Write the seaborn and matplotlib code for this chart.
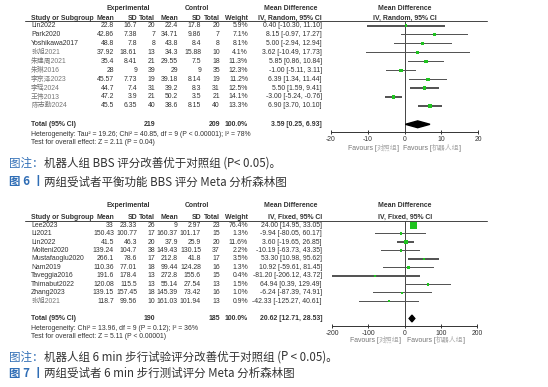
import matplotlib
matplotlib.use('Agg')
import matplotlib.pyplot as plt
import seaborn as sns
from matplotlib.offsetbox import TextArea, HPacker, AnnotationBbox

# 图6 BBS
bbs_study = ['Lin2022', 'Park2020', 'Yoshikawa2017', '张旭2021', '朱建周2021',
             '朱琳2016', '李京泽2023', '李瑶2024', '王伟2013', '陈志勤2024']
bbs_exp_mean = [22.8, 42.86, 48.8, 37.92, 35.4, 28, 45.57, 44.7, 47.2, 45.5]
bbs_exp_sd = [16.7, 7.38, 7.8, 18.61, 8.41, 9, 7.73, 7.4, 3.9, 6.35]
bbs_exp_n = [20, 7, 8, 13, 21, 39, 19, 31, 21, 40]
bbs_ctl_mean = [22.4, 34.71, 43.8, 34.3, 29.55, 29, 39.18, 39.2, 50.2, 38.6]
bbs_ctl_sd = [17.8, 9.86, 8.4, 15.88, 7.5, 9, 8.14, 8.3, 3.5, 8.15]
bbs_ctl_n = [20, 7, 8, 10, 18, 35, 19, 31, 21, 40]
bbs_weight = [5.9, 7.1, 8.1, 4.1, 11.3, 12.3, 11.2, 12.5, 14.1, 13.3]
bbs_md = [0.40, 8.15, 5.00, 3.62, 5.85, -1.00, 6.39, 5.50, -3.00, 6.90]
bbs_lo = [-10.30, -0.97, -2.94, -10.49, 0.86, -5.11, 1.34, 1.59, -5.24, 3.70]
bbs_hi = [11.10, 17.27, 12.94, 17.73, 10.84, 3.11, 11.44, 9.41, -0.76, 10.10]
bbs_total = [219, 209, 3.59, 0.25, 6.93]
bbs_het = 'Heterogeneity: Tau² = 19.26; Chi² = 40.85, df = 9 (P < 0.00001); I² = 78%'
bbs_test = 'Test for overall effect: Z = 2.11 (P = 0.04)'
bbs_ticks = [-20, -10, 0, 10, 20]

# 图7 6 min 步行
wlk_study = ['Lee2023', 'Li2021', 'Lin2022', 'Molteni2020', 'Mustafaoglu2020',
             'Nam2019', 'Taveggia2016', 'Thimabut2022', 'Zhang2023', '张旭2021']
wlk_exp_mean = [33, 150.43, 41.5, 139.24, 266.1, 110.36, 191.6, 120.08, 139.15, 118.7]
wlk_exp_sd = [23.33, 100.77, 46.3, 104.7, 78.6, 77.01, 178.4, 115.5, 157.45, 99.56]
wlk_exp_n = [26, 17, 20, 38, 17, 18, 13, 13, 18, 10]
wlk_ctl_mean = [9, 160.37, 37.9, 149.43, 212.8, 99.44, 272.8, 55.14, 145.39, 161.03]
wlk_ctl_sd = [2.97, 101.17, 25.9, 130.15, 41.8, 124.28, 155.6, 27.54, 73.42, 101.94]
wlk_ctl_n = [23, 15, 20, 37, 17, 16, 15, 13, 16, 13]
wlk_weight = [76.4, 1.3, 11.6, 2.2, 3.5, 1.3, 0.4, 1.5, 1.0, 0.9]
wlk_md = [24.00, -9.94, 3.60, -10.19, 53.30, 10.92, -81.20, 64.94, -6.24, -42.33]
wlk_lo = [14.95, -80.05, -19.65, -63.73, 10.98, -59.61, -206.12, 0.39, -87.39, -125.27]
wlk_hi = [33.05, 60.17, 26.85, 43.35, 95.62, 81.45, 43.72, 129.49, 74.91, 40.61]
wlk_total = [190, 185, 20.62, 12.71, 28.53]
wlk_het = 'Heterogeneity: Chi² = 13.96, df = 9 (P = 0.12); I² = 36%'
wlk_test = 'Test for overall effect: Z = 5.11 (P < 0.00001)'
wlk_ticks = [-200, -100, 0, 100, 200]

sns.set_theme(style='white')
plt.rcParams['font.family'] = ['Liberation Sans', 'Noto Sans CJK SC']

W, H = 548, 387
fig = plt.figure(figsize=(W / 100, H / 100), dpi=100)
fig.patch.set_facecolor('white')
bg = fig.add_axes([0, 0, 1, 1])
bg.set_xlim(0, W)
bg.set_ylim(H, 0)
bg.axis('off')

FS = 4.95
TXT = '#333333'
CJK = '#777777'
GREEN = '#1fc41f'
# right edges of the number columns
COLS = [114, 137, 155, 178, 201, 220, 248, 322]


def num(v):
    return f'{v:g}'


def is_cjk(s):
    return any(ord(c) > 0x2e80 for c in s)


def panel(study, em, esd, en, cm, csd, cn, wt, md, lo, hi, tot, het, test, ticks,
          method, lay):
    y0 = lay['head']
    bg.text(128, y0, 'Experimental', ha='center', va='center', fontsize=FS, weight='bold', color=TXT)
    bg.text(197, y0, 'Control', ha='center', va='center', fontsize=FS, weight='bold', color=TXT)
    bg.text(291, y0, 'Mean Difference', ha='center', va='center', fontsize=FS, weight='bold', color=TXT)
    bg.text(405, y0, 'Mean Difference', ha='center', va='center', fontsize=FS, weight='bold', color=TXT)
    y1 = lay['sub']
    bg.text(31, y1, 'Study or Subgroup', ha='left', va='center', fontsize=FS, weight='bold', color=TXT)
    for x, lab in zip(COLS[:7], ['Mean', 'SD', 'Total', 'Mean', 'SD', 'Total', 'Weight']):
        bg.text(x, y1, lab, ha='right', va='center', fontsize=FS, weight='bold', color=TXT)
    bg.text(322, y1, f'IV, {method}, 95% CI', ha='right', va='center', fontsize=FS, weight='bold', color=TXT)
    bg.text(405, y1, f'IV, {method}, 95% CI', ha='center', va='center', fontsize=FS, weight='bold', color=TXT)
    bg.plot([25, 487], [lay['line'], lay['line']], color='#444444', lw=0.7)

    rows = [lay['row0'] + i * lay['step'] for i in range(len(study))]
    for i, y in enumerate(rows):
        bg.text(31, y, study[i], ha='left', va='center', fontsize=FS,
                color=CJK if is_cjk(study[i]) else TXT)
        vals = [num(em[i]), num(esd[i]), str(en[i]), num(cm[i]), num(csd[i]), str(cn[i]),
                f'{wt[i]:.1f}%', f'{md[i]:.2f} [{lo[i]:.2f}, {hi[i]:.2f}]']
        for x, v in zip(COLS, vals):
            bg.text(x, y, v, ha='right', va='center', fontsize=FS, color=TXT)

    yt = lay['total']
    bg.text(31, yt, 'Total (95% CI)', ha='left', va='center', fontsize=FS, weight='bold', color=TXT)
    tv = [(COLS[2], str(tot[0])), (COLS[5], str(tot[1])), (COLS[6], '100.0%'),
          (COLS[7], f'{tot[2]:.2f} [{tot[3]:.2f}, {tot[4]:.2f}]')]
    for x, v in tv:
        bg.text(x, yt, v, ha='right', va='center', fontsize=FS, weight='bold', color=TXT)
    bg.text(31, lay['het'], het, ha='left', va='center', fontsize=FS, color=TXT)
    bg.text(31, lay['test'], test, ha='left', va='center', fontsize=FS, color=TXT)

    # forest plot
    x0, x1 = lay['ax_x']
    ytop, ybot = lay['line'], lay['axis']
    ax = fig.add_axes([x0 / W, 1 - ybot / H, (x1 - x0) / W, (ybot - ytop) / H])
    ax.set_facecolor('none')
    ax.set_xlim(ticks[0], ticks[-1])
    ax.set_ylim(ybot, ytop)
    ax.axvline(0, color='#444444', lw=0.7, zorder=1)
    # CI bars as thin rectangles (height in page pixels)
    ax.barh(rows, [b - a for a, b in zip(lo, hi)], left=lo, height=1.4,
            color='#555555', linewidth=0, zorder=2)
    sns.scatterplot(x=md, y=rows, size=wt, sizes=(2.5, 33), size_norm=(0, 100),
                    marker='s', color=GREEN, edgecolor='none', linewidth=0,
                    legend=False, ax=ax, zorder=3)
    dh = 3.4
    ax.fill([tot[3], tot[2], tot[4], tot[2]], [yt, yt - dh, yt, yt + dh],
            color='black', zorder=4)
    for s in ['top', 'left', 'right']:
        ax.spines[s].set_visible(False)
    ax.spines['bottom'].set_color('#333333')
    ax.spines['bottom'].set_linewidth(0.7)
    ax.set_xticks(ticks)
    ax.set_xticklabels([str(t) for t in ticks])
    ax.set_yticks([])
    ax.set_xlim(ticks[0], ticks[-1])
    ax.set_ylim(ybot, ytop)
    ax.tick_params(axis='x', direction='inout', length=3.5, width=0.7, color='#333333',
                   labelsize=FS, labelcolor=TXT, pad=1.2, bottom=True)
    ax.set_xlabel('')
    ax.set_ylabel('')

    yf = lay['fav']
    left = HPacker(children=[TextArea('Favours [', textprops=dict(fontsize=FS, color='#777777')),
                             TextArea('对照组', textprops=dict(fontsize=FS, color='#aaaaaa')),
                             TextArea(']', textprops=dict(fontsize=FS, color='#777777'))],
                   pad=0, sep=0, align='baseline')
    right = HPacker(children=[TextArea('Favours [', textprops=dict(fontsize=FS, color='#777777')),
                              TextArea('机器人组', textprops=dict(fontsize=FS, color='#aaaaaa')),
                              TextArea(']', textprops=dict(fontsize=FS, color='#777777'))],
                    pad=0, sep=0, align='baseline')
    bg.add_artist(AnnotationBbox(left, (lay['fav_l'], yf), xycoords='data',
                                 box_alignment=(1, 0.5), frameon=False, pad=0))
    bg.add_artist(AnnotationBbox(right, (lay['fav_r'], yf), xycoords='data',
                                 box_alignment=(0, 0.5), frameon=False, pad=0))


def caption(y, parts):
    kids = [TextArea(t, textprops=dict(fontsize=8.3, color=c, weight=w,
                                       family=['Noto Sans CJK SC', 'DejaVu Sans'],
                                       style=st))
            for t, c, w, st in parts]
    box = HPacker(children=kids, pad=0, sep=0, align='baseline')
    bg.add_artist(AnnotationBbox(box, (9, y), xycoords='data', box_alignment=(0, 0.5),
                                 frameon=False, pad=0))


lay6 = dict(head=8.3, sub=18.0, line=21.0, row0=25.8, step=8.9, total=124.3,
            het=134.0, test=143.0, ax_x=(331, 478), axis=132.3, fav=148.3,
            fav_l=399, fav_r=403)
lay7 = dict(head=205.5, sub=217.5, line=221.0, row0=225.2, step=8.45, total=318.5,
            het=328.3, test=336.7, ax_x=(332, 477), axis=326.3, fav=340.5,
            fav_l=401, fav_r=407)

panel(bbs_study, bbs_exp_mean, bbs_exp_sd, bbs_exp_n, bbs_ctl_mean, bbs_ctl_sd, bbs_ctl_n,
      bbs_weight, bbs_md, bbs_lo, bbs_hi, bbs_total, bbs_het, bbs_test, bbs_ticks,
      'Random', lay6)
panel(wlk_study, wlk_exp_mean, wlk_exp_sd, wlk_exp_n, wlk_ctl_mean, wlk_ctl_sd, wlk_ctl_n,
      wlk_weight, wlk_md, wlk_lo, wlk_hi, wlk_total, wlk_het, wlk_test, wlk_ticks,
      'Fixed', lay7)

BLUE = '#2f6db5'
DARK = '#333333'
caption(163.5, [('图注：', BLUE, 'normal', 'normal'),
                ('机器人组 BBS 评分改善优于对照组 (', DARK, 'normal', 'normal'),
                ('P', DARK, 'normal', 'italic'),
                ('< 0.05)。', DARK, 'normal', 'normal')])
caption(182.0, [('图 6 丨', BLUE, 'bold', 'normal'),
                ('两组受试者平衡功能 BBS 评分 Meta 分析森林图', DARK, 'normal', 'normal')])
caption(357.0, [('图注：', BLUE, 'normal', 'normal'),
                ('机器人组 6 min 步行试验评分改善优于对照组 (', DARK, 'normal', 'normal'),
                ('P', DARK, 'normal', 'italic'),
                (' < 0.05)。', DARK, 'normal', 'normal')])
caption(373.5, [('图 7 丨', BLUE, 'bold', 'normal'),
                ('两组受试者 6 min 步行测试评分 Meta 分析森林图', DARK, 'normal', 'normal')])

fig.savefig('out.png', dpi=100, facecolor='white')
